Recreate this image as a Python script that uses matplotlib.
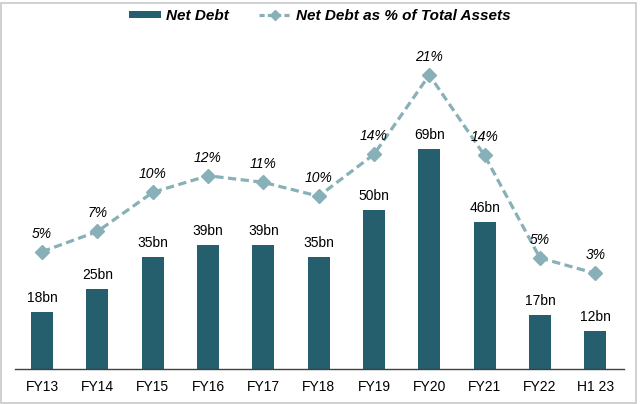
import matplotlib.pyplot as plt
from matplotlib.lines import Line2D
from matplotlib.patches import Patch, Rectangle

plt.rcParams['font.family'] = ['Liberation Sans', 'DejaVu Sans']

# Data
periods = ['FY13', 'FY14', 'FY15', 'FY16', 'FY17', 'FY18', 'FY19', 'FY20', 'FY21', 'FY22', 'H1 23']
net_debt = [18, 25, 35, 39, 39, 35, 50, 69, 46, 17, 12]
net_debt_labels = ['18bn', '25bn', '35bn', '39bn', '39bn', '35bn', '50bn', '69bn', '46bn', '17bn', '12bn']
pct_assets = [4.97, 6.8, 10.35, 11.86, 11.26, 10.0, 13.8, 21.0, 13.7, 4.4, 3.0]
pct_labels = ['5%', '7%', '10%', '12%', '11%', '10%', '14%', '21%', '14%', '5%', '3%']

bar_color = '#255F6E'
line_color = '#87B0B8'

fig = plt.figure(figsize=(6.4, 4.04), dpi=100)
# axes placed in pixel terms: left 15, right 624, bottom 369 (from top), top 50
W, H = 640, 404
ax = fig.add_axes([15 / W, (H - 369) / H, (624 - 15) / W, (369 - 50) / H])

x = list(range(len(periods)))
ax.bar(x, net_debt, width=0.4, color=bar_color, zorder=2)
for xi, v, lab in zip(x, net_debt, net_debt_labels):
    ax.annotate(lab, (xi, v), xytext=(0, 5), textcoords='offset points',
                ha='center', va='bottom', fontsize=10, color='black')

ax.set_ylim(0, 100)
ax.set_xlim(-0.49, 10.52)
ax.set_yticks([])
ax.set_xticks(x)
ax.set_xticklabels(periods, fontsize=10)
ax.tick_params(axis='x', length=0, pad=8)
for s in ['top', 'right', 'left']:
    ax.spines[s].set_visible(False)
ax.spines['bottom'].set_color('#404040')
ax.spines['bottom'].set_linewidth(1)

ax2 = ax.twinx()
ax2.plot(x, pct_assets, color=line_color, linestyle=(0, (2.6, 1.4)), linewidth=2.3,
         marker='D', markersize=7, zorder=3)
for xi, v, lab in zip(x, pct_assets, pct_labels):
    ax2.annotate(lab, (xi, v), xytext=(0, 8), textcoords='offset points',
                 ha='center', va='bottom', fontsize=10, style='italic', color='black')
ax2.set_ylim(-5.68, 23.27)
ax2.set_yticks([])
for s in ['top', 'right', 'left', 'bottom']:
    ax2.spines[s].set_visible(False)

handles = [Patch(facecolor=bar_color, label='Net Debt'),
           Line2D([0], [0], color=line_color, linestyle=(0, (1.6, 1.0)), linewidth=2.3,
                  marker='D', markersize=5, label='Net Debt as % of Total Assets')]
fig.legend(handles=handles, loc='center', bbox_to_anchor=(0.5, 1 - 16 / H), ncol=2,
           frameon=False, prop={'weight': 'bold', 'style': 'italic', 'size': 11},
           handlelength=2.1, handleheight=0.4, handletextpad=0.3, columnspacing=2.0)

# light grey frame around the whole picture
fig.patches.append(Rectangle((1 / W, 1 / H), (636 - 1) / W, (402 - 2) / H, transform=fig.transFigure,
                             fill=False, edgecolor='#C8C8C8', linewidth=1.2))

fig.savefig('out.png', dpi=100)
